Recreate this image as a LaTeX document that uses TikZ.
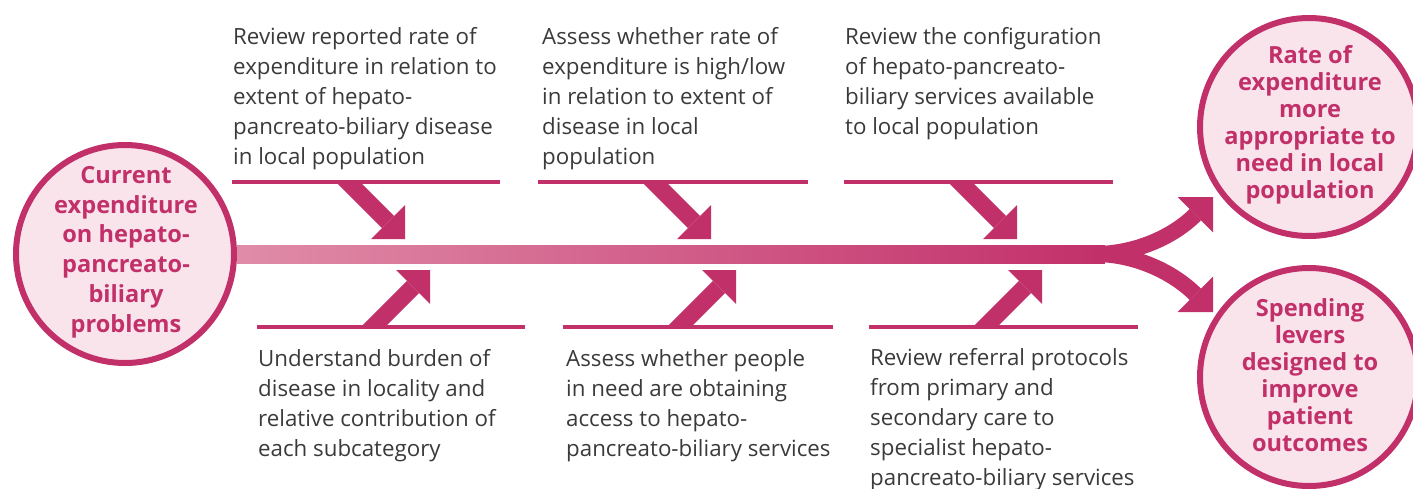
\documentclass[tikz,border=0pt]{standalone}
\usepackage{fontspec}
\setmainfont{Open Sans}
\usetikzlibrary{arrows.meta,calc}
\definecolor{mag}{HTML}{C2306A}
\definecolor{pinkfill}{HTML}{F9E4EC}
\definecolor{txt}{HTML}{3A3A3A}
\definecolor{barleft}{HTML}{E08CA8}
\begin{document}
\begin{tikzpicture}[x=1pt,y=-1pt,
  bubble/.style={circle, draw=mag, line width=6pt, fill=pinkfill, minimum size=218pt, inner sep=0pt},
  bubbletext/.style={font=\bfseries\fontsize{23.6}{29.8}\selectfont, text=mag, align=center, inner sep=0pt},
  bubbletextr/.style={bubbletext, font=\bfseries\fontsize{23.6}{26.9}\selectfont},
  desc/.style={font=\fontsize{22.3}{29.8}\selectfont, text=txt, align=left, anchor=base west, inner sep=0pt},
  rib/.style={draw=mag, line width=4pt},
  bone/.style={draw=mag, line width=17pt, -{Triangle[width=48pt,length=24pt,line width=0pt]}},
  branch/.style={draw=mag, line width=16pt, -{Triangle[width=50pt,length=25pt,line width=0pt]}}
]
\useasboundingbox (0,0) rectangle (1413,488);

% circles
\node[bubble] (src) at (125,254) {};
\node[bubbletext] (srctext) at (126,252) {Current\\expenditure\\on hepato-\\pancreato-\\biliary\\problems};
\node[bubble] (outa) at (1309,127) {};
\node[bubbletextr] (outatext) at (1310,125) {Rate of\\expenditure\\more\\appropriate to\\need in local\\population};
\node[bubble] (outb) at (1309,377) {};
\node[bubbletextr] (outbtext) at (1310,375) {Spending\\levers\\designed to\\improve\\patient\\outcomes};

% spine
\coordinate (fork) at (1105,254);
\shade[left color=barleft, right color=mag] ($(src.east)+(0,-9)$) rectangle ($(fork)+(0,9)$);
\coordinate (forkstart) at (1095,254);
\coordinate (tipa) at (1213,197);
\coordinate (tipb) at (1213,312);
\draw[branch] (forkstart) .. controls (1135,254) and (1173,237) .. (tipa);
\draw[branch] (forkstart) .. controls (1135,254) and (1173,272) .. (tipb);

% ribs
\draw[rib] (232,182) -- (500,182);
\draw[rib] (538,182) -- (808,182);
\draw[rib] (844,182) -- (1113,182);
\draw[rib] (257,327) -- (525,327);
\draw[rib] (563,327) -- (833,327);
\draw[rib] (869,327) -- (1138,327);

% bones
\coordinate (t1s) at (336,170); \coordinate (t1e) at (405,239);
\coordinate (t2s) at (642,170); \coordinate (t2e) at (711,239);
\coordinate (t3s) at (948,170); \coordinate (t3e) at (1017,239);
\coordinate (b1s) at (361,339); \coordinate (b1e) at (430,270);
\coordinate (b2s) at (667,339); \coordinate (b2e) at (736,270);
\coordinate (b3s) at (973,339); \coordinate (b3e) at (1042,270);
\begin{scope}
  \clip (0,182) rectangle (1413,250);
  \draw[bone] (t1s) -- (t1e);
  \draw[bone] (t2s) -- (t2e);
  \draw[bone] (t3s) -- (t3e);
\end{scope}
\begin{scope}
  \clip (0,258) rectangle (1413,327);
  \draw[bone] (b1s) -- (b1e);
  \draw[bone] (b2s) -- (b2e);
  \draw[bone] (b3s) -- (b3e);
\end{scope}

% texts (anchor = baseline of last line)
\node[desc] (d1) at (233,164) {Review reported rate of\\expenditure in relation to\\extent of hepato-\\pancreato-biliary disease\\in local population};
\node[desc] (d2) at (542,164) {Assess whether rate of\\expenditure is high/low\\in relation to extent of\\disease in local\\population};
\node[desc] (d3) at (845,134) {Review the configuration\\of hepato-pancreato-\\biliary services available\\to local population};
\node[desc] (d4) at (258,456) {Understand burden of\\disease in locality and\\relative contribution of\\each subcategory};
\node[desc] (d5) at (566,456) {Assess whether people\\in need are obtaining\\access to hepato-\\pancreato-biliary services};
\node[desc] (d6) at (870,485) {Review referral protocols\\from primary and\\secondary care to\\specialist hepato-\\pancreato-biliary services};
\end{tikzpicture}
\end{document}
